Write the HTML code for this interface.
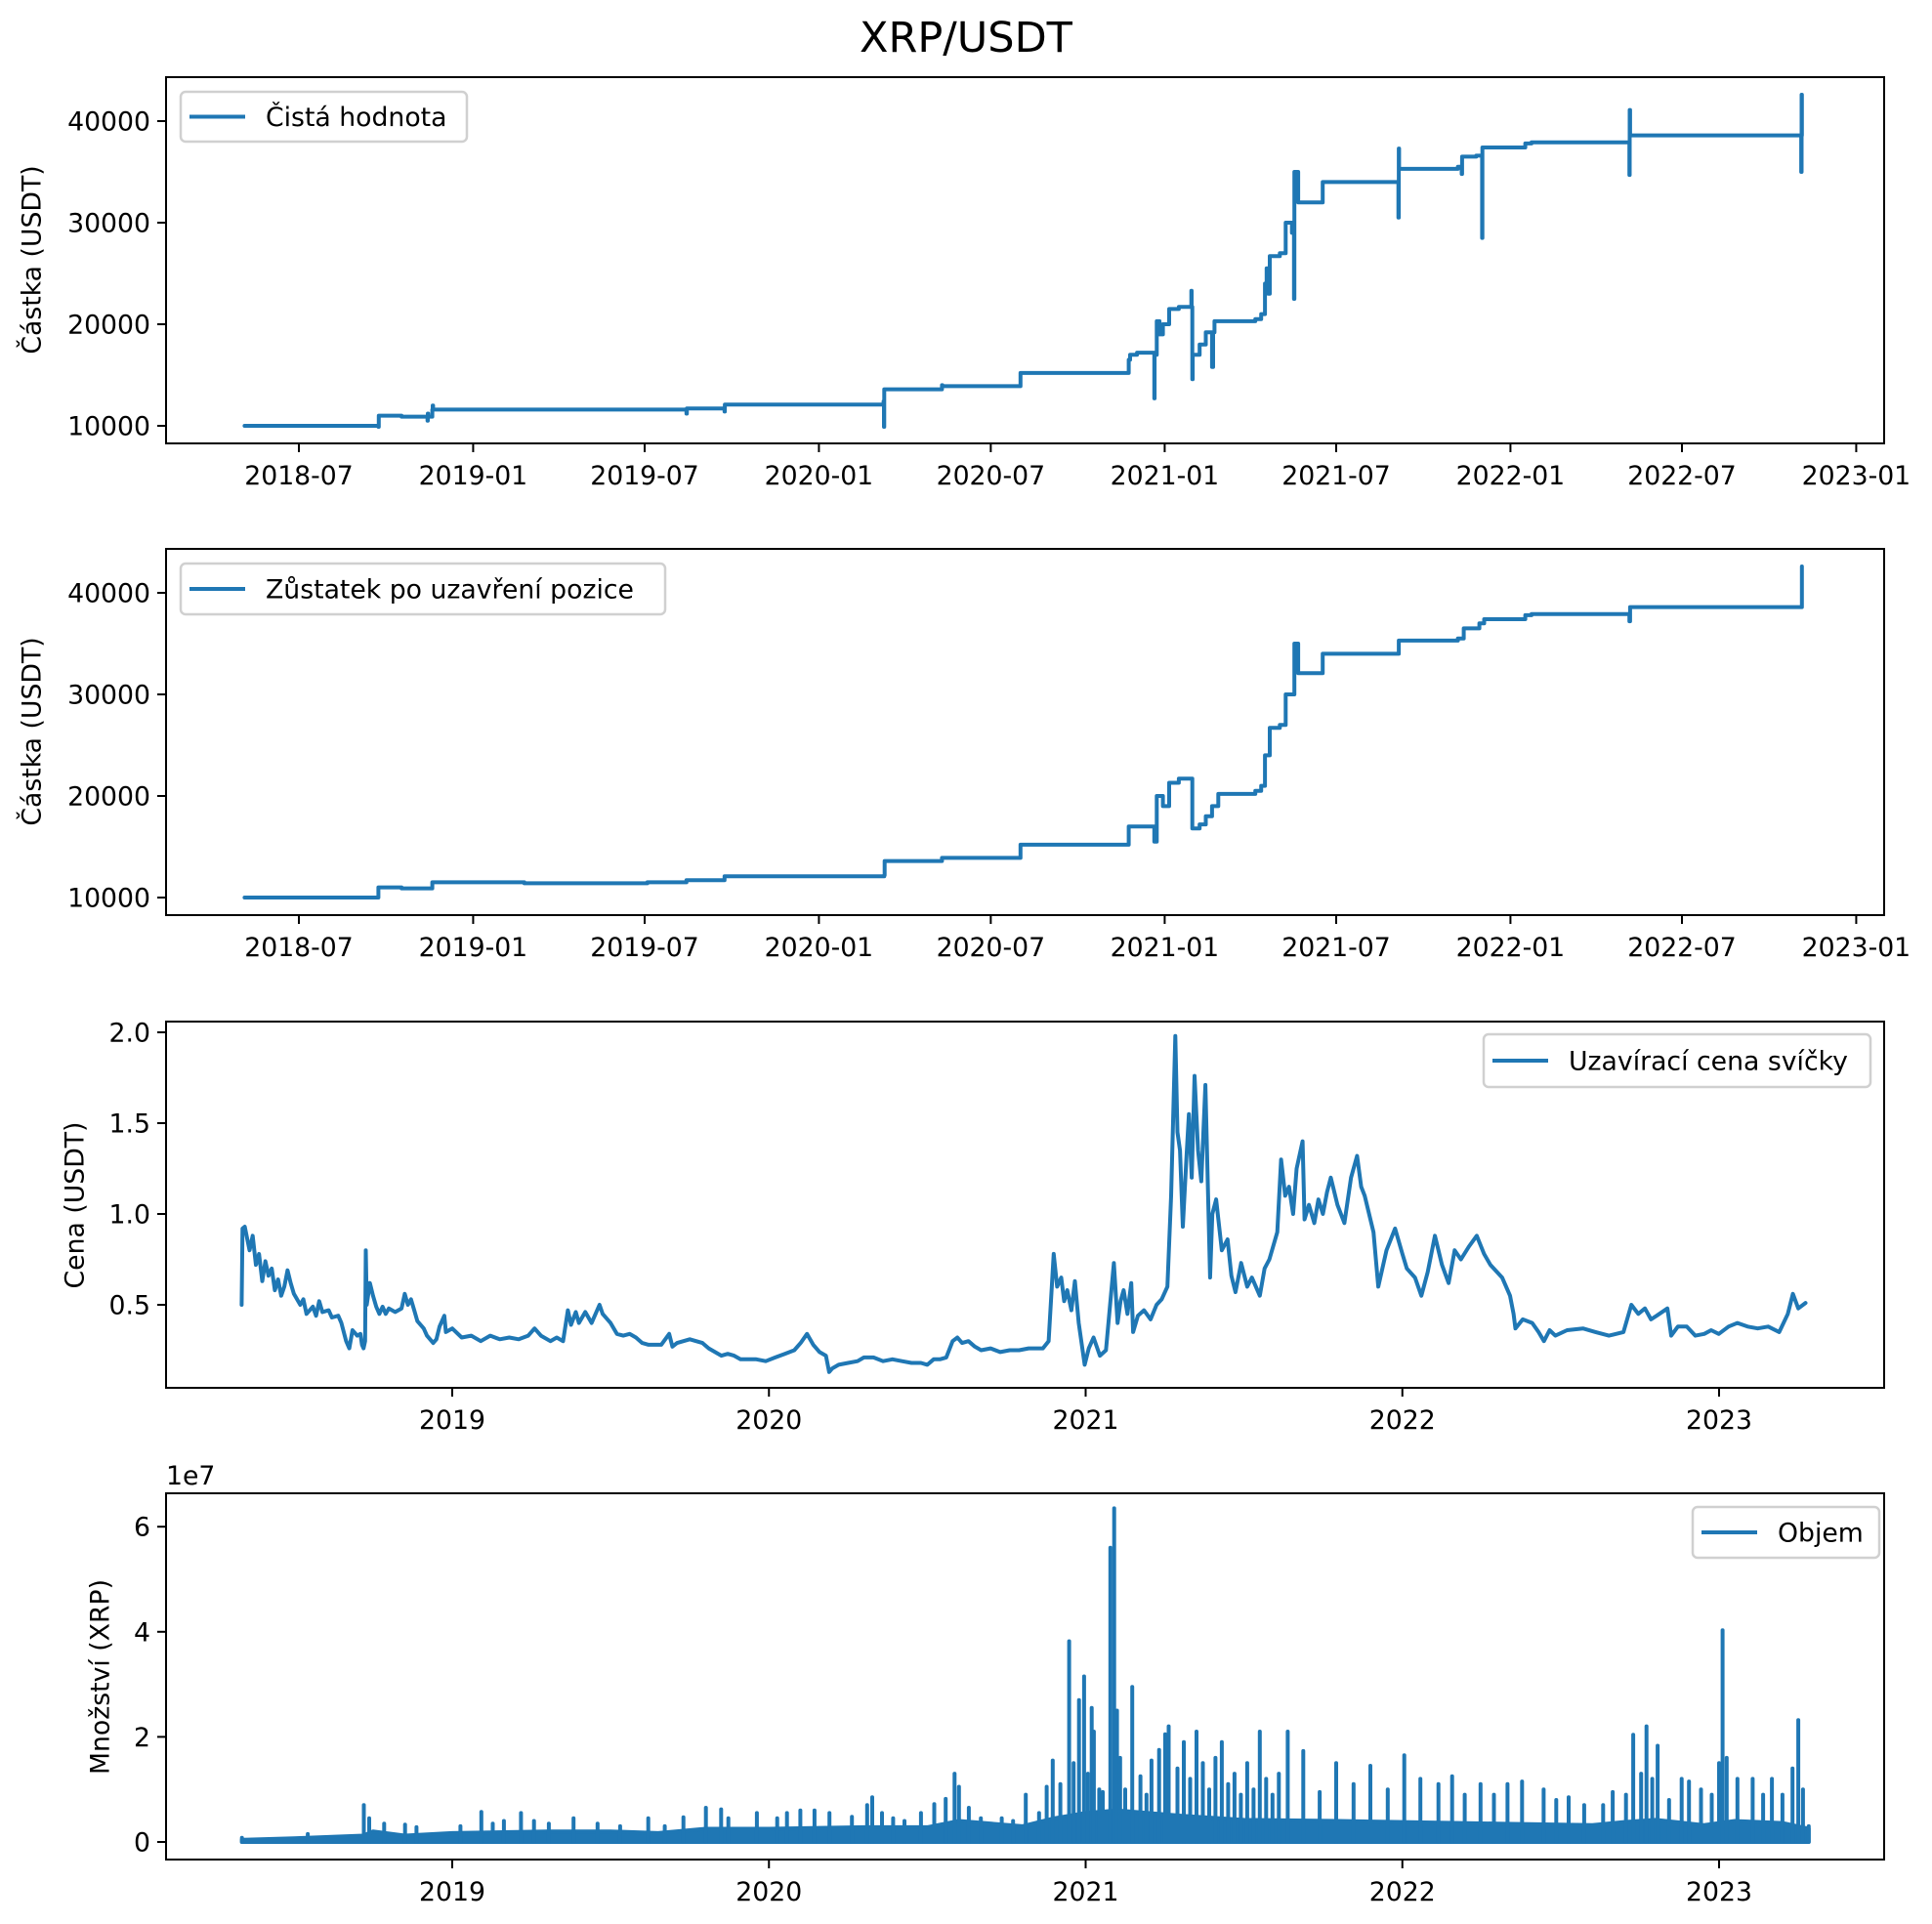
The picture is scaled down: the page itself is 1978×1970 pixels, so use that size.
<!DOCTYPE html>
<html><head><meta charset="utf-8"><title>XRP/USDT</title>
<style>
html,body{margin:0;padding:0;background:#fff;}
svg{display:block;font-family:"DejaVu Sans","Liberation Sans",sans-serif;}
</style></head>
<body>
<svg id="fig" xmlns="http://www.w3.org/2000/svg" width="1978" height="1970" viewBox="0 0 1978 1970">
<rect x="0" y="0" width="1978" height="1970" fill="#fff"/>
<text x="989" y="53" font-size="43" text-anchor="middle">XRP/USDT</text>
</svg>
<script>
// ---------- data ----------
const netYears = [2018.339,2018.726,2018.727,2018.793,2018.868,2018.869,2018.870,2018.882,2018.883,2018.884,2019.617,2019.618,2019.727,2019.728,2020.187,2020.188,2020.189,2020.356,2020.357,2020.583,2020.896,2020.900,2020.92,2020.970,2020.971,2020.977,2020.985,2020.995,2021.013,2021.041,2021.077,2021.078,2021.080,2021.081,2021.101,2021.119,2021.137,2021.140,2021.144,2021.262,2021.279,2021.290,2021.295,2021.300,2021.304,2021.333,2021.350,2021.368,2021.374,2021.375,2021.386,2021.457,2021.676,2021.677,2021.678,2021.848,2021.859,2021.860,2021.901,2021.918,2021.919,2022.043,2022.061,2022.344,2022.345,2022.346,2022.841,2022.842,2022.843];
const netValues = [10000,9900,11000,10900,10500,11200,10900,11600,12000,11600,11200,11700,11400,12100,12400,9900,13600,14000,13900,15200,16500,17000,17200,12700,17000,20300,19000,20000,21500,21700,23300,21700,14600,17000,18000,19200,15800,19200,20300,20500,21000,24000,25500,23000,26700,27000,30000,29000,22500,35000,32000,34000,30500,37300,35300,35500,34800,36500,36600,28500,37400,37800,37900,34700,41100,38600,35000,42600,38600];

const balYears = [2018.339,2018.726,2018.793,2018.882,2019.148,2019.504,2019.617,2019.727,2020.189,2020.19,2020.356,2020.583,2020.896,2020.970,2020.977,2020.995,2021.013,2021.041,2021.080,2021.101,2021.119,2021.137,2021.155,2021.262,2021.279,2021.290,2021.304,2021.333,2021.350,2021.375,2021.386,2021.457,2021.677,2021.848,2021.865,2021.91,2021.924,2022.043,2022.061,2022.344,2022.346,2022.843];
const balValues = [10000,11000,10900,11500,11400,11500,11700,12100,12200,13600,13900,15200,17000,15500,20000,19000,21300,21700,16800,17200,18000,19000,20200,20500,21000,24000,26700,27000,30000,35000,32100,34000,35300,35500,36500,37000,37400,37800,37900,37200,38600,42600];

const priceYears = [2018.335,2018.338,2018.345,2018.36,2018.37,2018.38,2018.39,2018.40,2018.41,2018.42,2018.43,2018.44,2018.45,2018.46,2018.47,2018.48,2018.49,2018.50,2018.52,2018.53,2018.54,2018.56,2018.57,2018.58,2018.59,2018.61,2018.62,2018.64,2018.65,2018.665,2018.675,2018.685,2018.70,2018.71,2018.715,2018.72,2018.725,2018.727,2018.73,2018.74,2018.75,2018.76,2018.77,2018.78,2018.79,2018.80,2018.82,2018.84,2018.85,2018.86,2018.87,2018.88,2018.89,2018.91,2018.92,2018.94,2018.95,2018.96,2018.975,2018.98,2019.00,2019.03,2019.06,2019.09,2019.12,2019.15,2019.18,2019.21,2019.24,2019.26,2019.28,2019.31,2019.33,2019.35,2019.365,2019.375,2019.39,2019.40,2019.42,2019.44,2019.465,2019.475,2019.49,2019.50,2019.52,2019.54,2019.56,2019.58,2019.60,2019.62,2019.64,2019.66,2019.685,2019.695,2019.71,2019.73,2019.75,2019.77,2019.79,2019.81,2019.83,2019.85,2019.87,2019.89,2019.91,2019.93,2019.96,2019.99,2020.02,2020.05,2020.08,2020.10,2020.12,2020.14,2020.16,2020.18,2020.19,2020.20,2020.22,2020.25,2020.28,2020.30,2020.33,2020.36,2020.39,2020.42,2020.45,2020.48,2020.50,2020.52,2020.54,2020.56,2020.58,2020.595,2020.61,2020.63,2020.65,2020.67,2020.70,2020.73,2020.76,2020.79,2020.82,2020.865,2020.883,2020.899,2020.91,2020.923,2020.932,2020.942,2020.955,2020.966,2020.978,2020.997,2021.01,2021.025,2021.045,2021.064,2021.089,2021.101,2021.11,2021.12,2021.132,2021.144,2021.15,2021.165,2021.184,2021.205,2021.224,2021.24,2021.258,2021.27,2021.283,2021.29,2021.298,2021.307,2021.318,2021.326,2021.335,2021.344,2021.355,2021.365,2021.378,2021.393,2021.40,2021.412,2021.43,2021.448,2021.46,2021.473,2021.491,2021.51,2021.525,2021.55,2021.565,2021.58,2021.605,2021.617,2021.63,2021.642,2021.655,2021.666,2021.685,2021.691,2021.705,2021.722,2021.735,2021.749,2021.762,2021.774,2021.795,2021.817,2021.838,2021.857,2021.87,2021.881,2021.909,2021.924,2021.95,2021.977,2022.0,2022.014,2022.04,2022.06,2022.08,2022.103,2022.125,2022.146,2022.165,2022.185,2022.21,2022.235,2022.258,2022.278,2022.315,2022.34,2022.351,2022.357,2022.38,2022.41,2022.43,2022.447,2022.465,2022.483,2022.52,2022.57,2022.61,2022.652,2022.698,2022.723,2022.745,2022.766,2022.785,2022.803,2022.837,2022.849,2022.87,2022.898,2022.925,2022.953,2022.975,2022.999,2023.03,2023.058,2023.09,2023.122,2023.155,2023.19,2023.217,2023.233,2023.25,2023.273];
const priceValues = [0.50,0.92,0.93,0.80,0.88,0.72,0.78,0.63,0.74,0.66,0.70,0.58,0.64,0.55,0.60,0.69,0.62,0.56,0.50,0.53,0.45,0.49,0.44,0.52,0.46,0.47,0.43,0.44,0.40,0.30,0.26,0.36,0.33,0.34,0.28,0.26,0.30,0.80,0.50,0.62,0.55,0.49,0.45,0.49,0.45,0.48,0.46,0.48,0.56,0.50,0.53,0.47,0.41,0.37,0.33,0.29,0.31,0.38,0.44,0.35,0.37,0.32,0.33,0.30,0.33,0.31,0.32,0.31,0.33,0.37,0.33,0.30,0.32,0.30,0.47,0.39,0.46,0.40,0.46,0.40,0.50,0.45,0.42,0.40,0.34,0.33,0.34,0.32,0.29,0.28,0.28,0.28,0.34,0.27,0.29,0.30,0.31,0.30,0.29,0.26,0.24,0.22,0.23,0.22,0.20,0.20,0.20,0.19,0.21,0.23,0.25,0.29,0.34,0.28,0.24,0.22,0.13,0.15,0.17,0.18,0.19,0.21,0.21,0.19,0.20,0.19,0.18,0.18,0.17,0.20,0.20,0.21,0.30,0.32,0.29,0.30,0.27,0.25,0.26,0.24,0.25,0.25,0.26,0.26,0.30,0.78,0.60,0.65,0.52,0.58,0.47,0.63,0.40,0.17,0.26,0.32,0.22,0.25,0.73,0.40,0.52,0.58,0.45,0.62,0.35,0.44,0.47,0.42,0.50,0.53,0.60,1.10,1.98,1.45,1.35,0.93,1.30,1.55,1.20,1.76,1.35,1.18,1.71,0.65,1.00,1.08,0.80,0.86,0.66,0.57,0.73,0.60,0.65,0.55,0.70,0.75,0.90,1.30,1.10,1.15,1.00,1.25,1.40,0.97,1.05,0.95,1.08,1.00,1.12,1.20,1.05,0.95,1.20,1.32,1.15,1.10,0.90,0.60,0.80,0.92,0.78,0.70,0.65,0.55,0.68,0.88,0.72,0.62,0.80,0.75,0.82,0.88,0.78,0.72,0.65,0.55,0.45,0.37,0.42,0.40,0.35,0.30,0.36,0.33,0.36,0.37,0.35,0.33,0.35,0.50,0.45,0.48,0.42,0.44,0.48,0.33,0.38,0.38,0.33,0.34,0.36,0.34,0.38,0.40,0.38,0.37,0.38,0.35,0.45,0.56,0.48,0.51];

const volPeakYears = [2018.336,2018.544,2018.721,2018.738,2018.785,2018.851,2018.887,2019.026,2019.092,2019.128,2019.163,2019.217,2019.258,2019.305,2019.383,2019.459,2019.53,2019.619,2019.671,2019.73,2019.801,2019.849,2019.872,2019.962,2020.026,2020.057,2020.099,2020.144,2020.191,2020.262,2020.31,2020.326,2020.357,2020.392,2020.428,2020.48,2020.522,2020.558,2020.586,2020.6,2020.631,2020.669,2020.735,2020.771,2020.811,2020.853,2020.877,2020.896,2020.92,2020.948,2020.962,2020.979,2020.995,2021.007,2021.019,2021.026,2021.043,2021.054,2021.078,2021.09,2021.099,2021.109,2021.125,2021.147,2021.173,2021.192,2021.208,2021.232,2021.251,2021.262,2021.29,2021.31,2021.33,2021.35,2021.37,2021.39,2021.41,2021.43,2021.45,2021.47,2021.49,2021.51,2021.53,2021.55,2021.57,2021.59,2021.61,2021.638,2021.687,2021.739,2021.791,2021.846,2021.899,2021.954,2022.006,2022.057,2022.114,2022.157,2022.197,2022.247,2022.289,2022.332,2022.378,2022.446,2022.486,2022.525,2022.574,2022.634,2022.664,2022.706,2022.729,2022.754,2022.771,2022.789,2022.806,2022.842,2022.882,2022.905,2022.943,2022.977,2023.0,2023.011,2023.024,2023.058,2023.106,2023.139,2023.167,2023.2,2023.232,2023.25,2023.265,2023.283];
const volPeakValues = [0.08,0.15,0.70,0.45,0.35,0.33,0.28,0.30,0.57,0.35,0.40,0.55,0.40,0.35,0.45,0.35,0.30,0.45,0.30,0.47,0.65,0.62,0.45,0.55,0.45,0.55,0.60,0.60,0.55,0.48,0.70,0.85,0.55,0.45,0.40,0.55,0.72,0.82,1.30,1.05,0.65,0.45,0.45,0.40,0.90,0.55,1.05,1.55,1.10,3.82,1.50,2.70,3.15,1.30,2.55,2.10,1.00,0.95,5.60,6.35,2.50,1.60,1.00,2.95,1.25,0.90,1.55,1.75,2.05,2.20,1.40,1.90,1.20,2.10,1.50,1.00,1.60,1.90,1.10,1.30,0.90,1.50,1.00,2.10,1.20,0.90,1.30,2.10,1.73,0.95,1.50,1.10,1.45,1.00,1.65,1.20,1.10,1.25,0.90,1.10,0.90,1.10,1.15,1.00,0.80,0.85,0.70,0.70,0.95,0.90,2.04,1.30,2.20,1.20,1.83,0.80,1.20,1.15,1.00,0.90,1.50,4.03,1.60,1.20,1.20,0.90,1.20,0.90,1.40,2.32,1.00,0.30];

const volBaseYears = [2018.336,2018.5,2018.72,2018.75,2018.85,2019.0,2019.3,2019.5,2019.65,2019.8,2020.0,2020.3,2020.5,2020.6,2020.8,2020.9,2021.0,2021.1,2021.3,2021.5,2021.8,2022.0,2022.3,2022.6,2022.7,2022.8,2022.95,2023.05,2023.2,2023.283];
const volBaseValues = [0.04,0.07,0.12,0.20,0.12,0.17,0.20,0.20,0.17,0.25,0.25,0.28,0.28,0.40,0.30,0.45,0.55,0.60,0.50,0.42,0.40,0.38,0.35,0.32,0.38,0.42,0.32,0.40,0.36,0.25];

const dateTickYears = [2018.496,2019.0,2019.496,2020.0,2020.497,2021.0,2021.496,2022.0,2022.496,2023.0];
const dateTickLabels = ['2018-07','2019-01','2019-07','2020-01','2020-07','2021-01','2021-07','2022-01','2022-07','2023-01'];
const yearTickYears = [2019,2020,2021,2022,2023];
const yearTickLabels = ['2019','2020','2021','2022','2023'];
const amountTicks = [10000,20000,30000,40000];
const priceTicks = [0.5,1.0,1.5,2.0];
const priceTickLabels = ['0.5','1.0','1.5','2.0'];
const volTicks = [0,2,4,6];

// ---------- drawing ----------
const NS='http://www.w3.org/2000/svg';
const fig=document.getElementById('fig');
const BLUE='#1f77b4';
function mk(tag,attrs,parent){const e=document.createElementNS(NS,tag);for(const k in attrs)e.setAttribute(k,attrs[k]);(parent||fig).appendChild(e);return e;}

const L=170,R=1929;
const panels=[
 {top:79,bottom:454,x:y=>306+(y-2018.496)*354,y:v=>436-(v-10000)*0.0104},
 {top:562,bottom:937,x:y=>306+(y-2018.496)*354,y:v=>919-(v-10000)*0.0104},
 {top:1046,bottom:1421,x:y=>463+(y-2019)*324.25,y:v=>1336-(v-0.5)*186},
 {top:1529,bottom:1904,x:y=>463+(y-2019)*324.25,y:v=>1886-v*53.8}
];
const names=['net-value-panel','balance-panel','price-panel','volume-panel'];

panels.forEach((p,i)=>{
  const g=mk('g',{});
  
  
  p.g=g;
  const clip=mk('clipPath',{id:'clip'+i},g);
  mk('rect',{x:L,y:p.top,width:R-L,height:p.bottom-p.top},clip);
  p.plot=mk('g',{'clip-path':'url(#clip'+i+')'},g);
});

function stepPath(p,xs,vs){
  let d='M'+p.x(xs[0]).toFixed(1)+','+p.y(vs[0]).toFixed(1);
  for(let i=1;i<xs.length;i++){d+='H'+p.x(xs[i]).toFixed(1)+'V'+p.y(vs[i]).toFixed(1);}
  return d;
}
function linePath(p,xs,vs){
  return xs.map((x,i)=>(i?'L':'M')+p.x(x).toFixed(1)+','+p.y(vs[i]).toFixed(1)).join('');
}

let s=mk('path',{d:stepPath(panels[0],netYears,netValues),fill:'none',stroke:BLUE,'stroke-width':4,'stroke-linejoin':'round','stroke-linecap':'round'},panels[0].plot);


s=mk('path',{d:stepPath(panels[1],balYears,balValues),fill:'none',stroke:BLUE,'stroke-width':4,'stroke-linejoin':'round','stroke-linecap':'round'},panels[1].plot);


s=mk('path',{d:linePath(panels[2],priceYears,priceValues),fill:'none',stroke:BLUE,'stroke-width':4,'stroke-linejoin':'round','stroke-linecap':'round'},panels[2].plot);


{
  const p=panels[3];
  let d='M'+p.x(volBaseYears[0]).toFixed(1)+','+p.y(0).toFixed(1);
  volBaseYears.forEach((x,i)=>{d+='L'+p.x(x).toFixed(1)+','+p.y(volBaseValues[i]).toFixed(1);});
  d+='L'+p.x(volBaseYears[volBaseYears.length-1]).toFixed(1)+','+p.y(0).toFixed(1)+'Z';
  s=mk('path',{d:d,fill:BLUE,stroke:BLUE,'stroke-width':4,'stroke-linejoin':'round'},p.plot);
  
  
  volPeakYears.forEach((x,i)=>{
    const ln=mk('line',{x1:p.x(x).toFixed(1),x2:p.x(x).toFixed(1),y1:p.y(0).toFixed(1),y2:p.y(volPeakValues[i]).toFixed(1),stroke:BLUE,'stroke-width':4,'stroke-linecap':'round'},p.plot);
    
    
  });
}

function xTicks(p,yrs,labels){
  yrs.forEach((y,i)=>{
    const x=p.x(y);
    mk('line',{x1:x,x2:x,y1:p.bottom,y2:p.bottom+9,stroke:'#000','stroke-width':2},p.g);
    const t=mk('text',{x:x,y:p.bottom+42,'font-size':26.7,'text-anchor':'middle'},p.g);
    t.textContent=labels[i];
    
    
  });
}
function yTicks(p,vals,labels){
  vals.forEach((v,i)=>{
    const y=p.y(v);
    mk('line',{x1:L-9,x2:L,y1:y,y2:y,stroke:'#000','stroke-width':2},p.g);
    const t=mk('text',{x:L-16,y:y+9.5,'font-size':26.7,'text-anchor':'end'},p.g);
    t.textContent=labels[i];
    
    
  });
}
xTicks(panels[0],dateTickYears,dateTickLabels);
xTicks(panels[1],dateTickYears,dateTickLabels);
xTicks(panels[2],yearTickYears,yearTickLabels);
xTicks(panels[3],yearTickYears,yearTickLabels);
yTicks(panels[0],amountTicks,amountTicks.map(String));
yTicks(panels[1],amountTicks,amountTicks.map(String));
yTicks(panels[2],priceTicks,priceTickLabels);
yTicks(panels[3],volTicks,volTicks.map(String));

panels.forEach(p=>{
  const f=mk('rect',{x:L,y:p.top,width:R-L,height:p.bottom-p.top,fill:'none',stroke:'#000','stroke-width':2},p.g);
  
  
});

function yLabel(cx,cy,txt,name){
  const t=mk('text',{x:cx,y:cy,'font-size':26.7,'text-anchor':'middle',transform:'rotate(-90 '+cx+' '+cy+')','dominant-baseline':'central'});
  t.textContent=txt;
  
  
}
yLabel(33,266,'Částka (USDT)','y-axis-title-net');
yLabel(33,749,'Částka (USDT)','y-axis-title-balance');
yLabel(77,1234,'Cena (USDT)','y-axis-title-price');
yLabel(103,1717,'Množství (XRP)','y-axis-title-volume');

const off=mk('text',{x:170,y:1520,'font-size':26.7});
off.textContent='1e7';



function legend(x,y,w,h,txt,name){
  const g=mk('g',{});
  
  
  mk('rect',{x:x,y:y,width:w,height:h,rx:5,fill:'#fff','fill-opacity':0.8,stroke:'#d0d0d0','stroke-width':2.5},g);
  const ly=y+h/2;
  mk('line',{x1:x+9,x2:x+66,y1:ly,y2:ly,stroke:BLUE,'stroke-width':4},g);
  const t=mk('text',{x:x+87,y:ly+9.5,'font-size':26.7},g);
  t.textContent=txt;
}
legend(185,94,293,51,'Čistá hodnota','legend-net-value');
legend(185,577,496,52,'Zůstatek po uzavření pozice','legend-balance');
legend(1519,1059,396,54,'Uzavírací cena svíčky','legend-price');
legend(1733,1543,191,52,'Objem','legend-volume');
</script>
</body></html>
